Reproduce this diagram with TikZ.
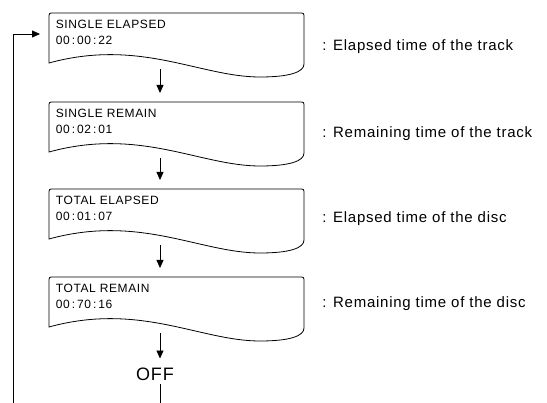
\documentclass[tikz,border=0pt]{standalone}
\usepackage{fontspec}
\setmainfont{Liberation Sans}[LetterSpace=5]
\usetikzlibrary{arrows.meta}
\newcommand\dispbox[4]{% #1 name, #2 top y, #3 first line, #4 second line
  \draw[boxline] (49,#2+50) -- (49,#2+5) .. controls (49,#2) .. (54,#2)
    -- (299,#2) .. controls (304,#2) .. (304,#2+5) -- (304,#2+51)
    .. controls (304,#2+59) and (290,#2+64) .. (260,#2+64)
    .. controls (200,#2+64) and (140,#2+25) .. (49,#2+50) -- cycle;
  \coordinate (#1in) at (160,#2);
  \coordinate (#1out) at (160,#2+56);
  \coordinate (#1w) at (49,#2+21);
  \node[boxtxt] (#1a) at (55.5,#2+16) {#3};
  \node[boxtxt] (#1b) at (55.5,#2+32) {#4};
}
\begin{document}
\begin{tikzpicture}[x=1pt,y=-1pt,line width=0.8pt,
  boxline/.style={line width=0.8pt},
  flow/.style={-{Triangle[length=8pt,width=7pt]}},
  boxtxt/.style={anchor=base west,inner sep=0pt,font=\fontsize{12}{14}\selectfont},
  lbl/.style={anchor=base west,inner sep=0pt,font=\fontsize{15}{17}\selectfont}]
\useasboundingbox (0,0) rectangle (547,403);
\dispbox{b1}{13}{SINGLE ELAPSED}{00\,:\,00\,:\,22}
\dispbox{b2}{102}{SINGLE REMAIN}{00\,:\,02\,:\,01}
\dispbox{b3}{189}{TOTAL ELAPSED}{00\,:\,01\,:\,07}
\dispbox{b4}{277}{TOTAL REMAIN}{00\,:\,70\,:\,16}
\node[lbl] (l1) at (322,51) {: Elapsed time of the track};
\node[lbl] (l2) at (322,137.5) {: Remaining time of the track};
\node[lbl] (l3) at (322,222.5) {: Elapsed time of the disc};
\node[lbl] (l4) at (322,308) {: Remaining time of the disc};
\node[anchor=base,inner sep=0pt,font=\fontsize{18}{20}\selectfont] (off) at (155,380.5) {OFF};
\coordinate (loopA) at (160,403);
\coordinate (loopB) at (13,403);
\draw[flow,shorten >=9pt] (b1out) -- (b2in);
\draw[flow,shorten >=9pt] (b2out) -- (b3in);
\draw[flow,shorten >=9pt] (b3out) -- (b4in);
\draw[flow,shorten >=9pt] (b4out) -- (b4out |- off.north);
\draw[shorten <=3pt] (loopA |- off.south) -- (loopA);
\draw[flow,shorten >=9pt] (loopB) |- (b1w);
\end{tikzpicture}
\end{document}
